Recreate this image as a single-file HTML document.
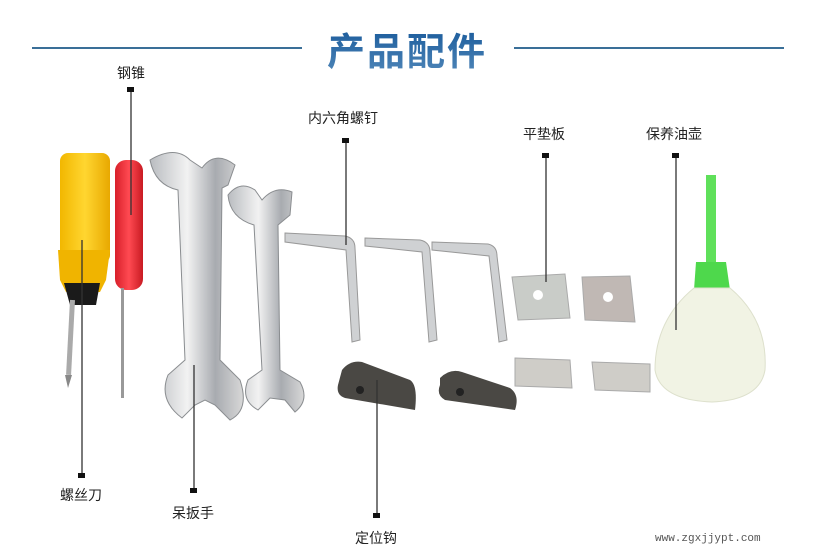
<!DOCTYPE html>
<html><head><meta charset="utf-8"><style>
body{margin:0;background:#fff;}
svg{display:block}
text{font-family:"Liberation Sans","Noto Sans CJK SC",sans-serif;}
</style></head><body>
<svg width="814" height="560" viewBox="0 0 814 560" xmlns="http://www.w3.org/2000/svg">
<defs>
<linearGradient id="tg" x1="0" y1="0" x2="0" y2="1"><stop offset="0" stop-color="#1f5f9e"/><stop offset="1" stop-color="#4f86b8"/></linearGradient>
<linearGradient id="steel" x1="0" y1="0" x2="1" y2="0"><stop offset="0" stop-color="#b9bcc0"/><stop offset=".4" stop-color="#f2f2f2"/><stop offset=".7" stop-color="#a8abb0"/><stop offset="1" stop-color="#d8d8d8"/></linearGradient>
<linearGradient id="yel" x1="0" y1="0" x2="1" y2="0"><stop offset="0" stop-color="#f2b700"/><stop offset=".5" stop-color="#ffd630"/><stop offset="1" stop-color="#e8a800"/></linearGradient>
<linearGradient id="red" x1="0" y1="0" x2="1" y2="0"><stop offset="0" stop-color="#d8202a"/><stop offset=".5" stop-color="#ff4a52"/><stop offset="1" stop-color="#c81a22"/></linearGradient>
</defs>
<line x1="32" y1="48" x2="302" y2="48" stroke="#3a6f98" stroke-width="2"/>
<line x1="514" y1="48" x2="784" y2="48" stroke="#3a6f98" stroke-width="2"/>
<text x="407" y="65" text-anchor="middle" font-size="38" font-weight="bold" fill="url(#tg)" letter-spacing="2">产品配件</text>

<rect x="60" y="153" width="50" height="110" rx="8" fill="url(#yel)"/>
<path d="M58 250 L110 250 L106 280 L100 292 L66 292 L60 280Z" fill="#f0b400"/>
<path d="M64 283 L100 283 L96 305 L70 305Z" fill="#1a1a1a"/>
<rect x="70" y="300" width="5" height="75" fill="#aaa" transform="rotate(3 72 300)"/>
<path d="M65 375 L72 375 L68 388Z" fill="#888"/>
<rect x="115" y="160" width="28" height="130" rx="11" fill="url(#red)"/>
<rect x="121" y="288" width="3" height="110" fill="#999"/>
<path d="M150 160 Q175 145 190 160 L202 168 Q215 150 235 165 L228 185 L222 188 L220 360 L240 380 Q250 410 230 420 L215 405 L205 400 L195 405 L182 418 Q158 400 168 375 L185 360 L178 190 Q155 185 150 160Z" fill="url(#steel)" stroke="#8a8d90" stroke-width="1"/>
<path d="M228 195 Q240 180 255 190 L262 200 Q275 185 292 192 L290 215 L278 225 L280 370 L300 382 Q310 400 295 412 L285 400 L270 398 L258 410 Q240 400 248 380 L262 370 L254 225 Q230 218 228 195Z" fill="url(#steel)" stroke="#8a8d90" stroke-width="1"/>
<path d="M285 233 L345 236 Q355 238 355 248 L360 340 L352 342 L346 250 L285 242Z" fill="#cfd1d3" stroke="#999" stroke-width="1"/>
<path d="M365 238 L420 240 Q430 242 430 252 L437 340 L429 342 L422 252 L365 246Z" fill="#cfd1d3" stroke="#999" stroke-width="1"/>
<path d="M432 242 L488 244 Q497 246 497 256 L507 340 L499 342 L489 256 L432 250Z" fill="#cfd1d3" stroke="#999" stroke-width="1"/>
<path d="M342 370 Q350 360 362 362 L410 380 Q418 385 415 410 L345 398 Q336 395 338 385Z" fill="#4a4844"/>
<circle cx="360" cy="390" r="4" fill="#222"/>
<path d="M440 378 Q450 368 462 372 L510 388 Q520 395 515 410 L445 400 Q436 395 440 385Z" fill="#4a4844"/>
<circle cx="460" cy="392" r="4" fill="#222"/>
<path d="M512 277 L565 274 L570 318 L518 320Z" fill="#c9ccc8" stroke="#aaa"/><circle cx="538" cy="295" r="5" fill="#fff"/>
<path d="M582 277 L630 276 L635 322 L585 320Z" fill="#c0b8b4" stroke="#aaa"/><circle cx="608" cy="297" r="5" fill="#fff"/>
<path d="M515 358 L570 360 L572 388 L515 386Z" fill="#cfcdc8" stroke="#aaa"/>
<path d="M592 362 L650 364 L650 392 L595 390Z" fill="#cfcdc8" stroke="#aaa"/>
<path d="M706 175 L716 175 L716 262 L706 262Z" fill="#5fe05a"/>
<path d="M696 262 L726 262 L730 290 L694 290Z" fill="#4ed84c"/>
<path d="M694 288 L730 288 Q768 320 765 370 Q760 400 712 402 Q660 400 655 370 Q655 320 694 288Z" fill="#f1f3e4" stroke="#dde0cc"/>

<g stroke="#333" stroke-width="1.3">
<line x1="131" y1="90" x2="131" y2="215"/>
<line x1="346" y1="141" x2="346" y2="245"/>
<line x1="546" y1="156" x2="546" y2="282"/>
<line x1="676" y1="156" x2="676" y2="330"/>
<line x1="82" y1="240" x2="82" y2="475"/>
<line x1="194" y1="365" x2="194" y2="490"/>
<line x1="377" y1="380" x2="377" y2="515"/>
</g>
<g fill="#111">
<rect x="127" y="87" width="7" height="5"/>
<rect x="342" y="138" width="7" height="5"/>
<rect x="542" y="153" width="7" height="5"/>
<rect x="672" y="153" width="7" height="5"/>
<rect x="78" y="473" width="7" height="5"/>
<rect x="190" y="488" width="7" height="5"/>
<rect x="373" y="513" width="7" height="5"/>
</g>
<g font-size="14" fill="#222">
<text x="117" y="78">钢锥</text>
<text x="308" y="123">内六角螺钉</text>
<text x="523" y="139">平垫板</text>
<text x="646" y="139">保养油壶</text>
<text x="60" y="500">螺丝刀</text>
<text x="172" y="518">呆扳手</text>
<text x="355" y="543">定位钩</text>
</g>
<text x="655" y="541" style="font-family:'Liberation Mono',monospace" font-size="11" fill="#555">www.zgxjjypt.com</text>
</svg>
</body></html>
